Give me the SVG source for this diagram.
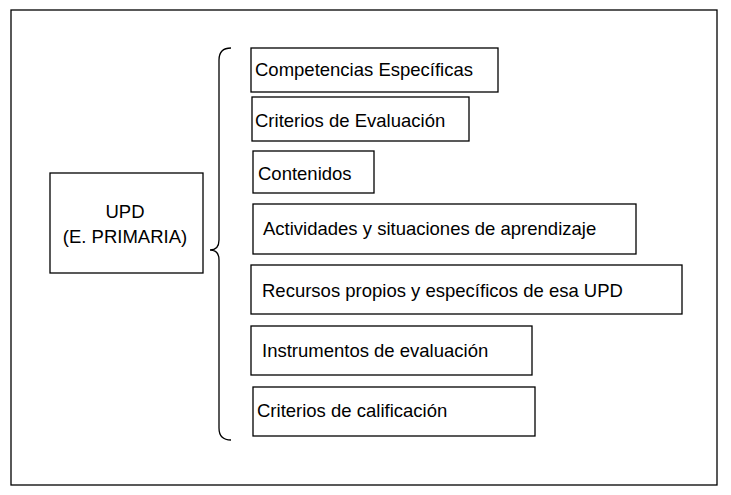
<svg xmlns="http://www.w3.org/2000/svg" width="731" height="495" viewBox="0 0 731 495">
<style>
rect{fill:#fff;stroke:#000;stroke-width:1.3}
text{font-family:"Liberation Sans",Arial,sans-serif;font-size:18.5px;fill:#000}
.c{text-anchor:middle}
</style>
<rect x="0" y="0" width="731" height="495" style="stroke:none"/>
<rect x="11" y="10" width="706" height="475"/>
<g id="upd"><rect x="50" y="173" width="153" height="100"/><text class="c" x="125" y="218">UPD</text><text class="c" x="125" y="243">(E. PRIMARIA)</text></g>
<g id="connectors"><path d="M231,48 Q219,48 219,60 L219,240 Q219,250 210,250 Q219,250 219,260 L219,428 Q219,440 231,440" fill="none" stroke="#000" stroke-width="1.3"/></g>
<g id="n1"><rect x="251" y="48" width="247" height="44"/><text x="255" y="76">Competencias Específicas</text></g>
<g id="n2"><rect x="252" y="97" width="217" height="44"/><text x="255" y="127">Criterios de Evaluación</text></g>
<g id="n3"><rect x="253" y="151" width="121" height="42"/><text x="258" y="180">Contenidos</text></g>
<g id="n4"><rect x="253" y="204" width="383" height="50"/><text x="263" y="235">Actividades y situaciones de aprendizaje</text></g>
<g id="n5"><rect x="251" y="265" width="431" height="49"/><text x="262" y="297">Recursos propios y específicos de esa UPD</text></g>
<g id="n6"><rect x="251" y="326" width="281" height="49"/><text x="262" y="357">Instrumentos de evaluación</text></g>
<g id="n7"><rect x="253" y="387" width="282" height="49"/><text x="257" y="417">Criterios de calificación</text></g>
</svg>
